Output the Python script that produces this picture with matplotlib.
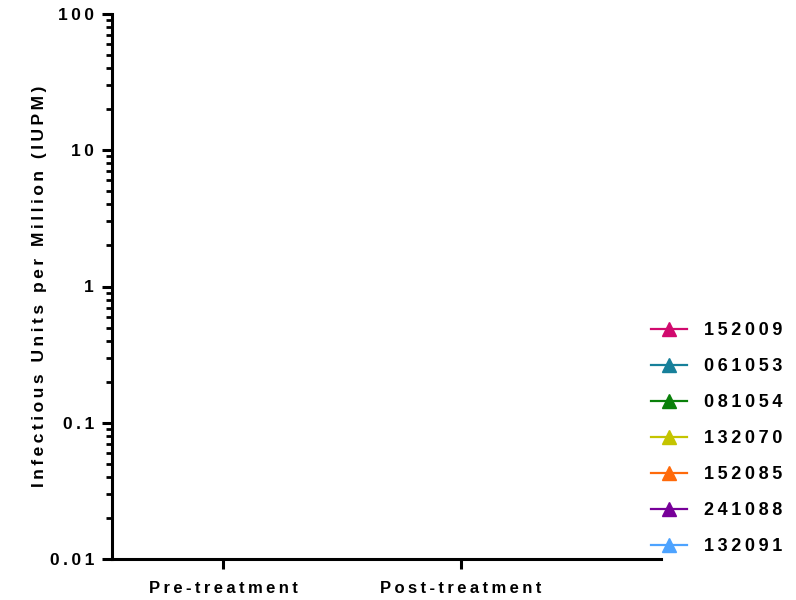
import numpy as np
import matplotlib
matplotlib.use("Agg")
import matplotlib.pyplot as plt
from matplotlib.ticker import FixedLocator, FixedFormatter, LogLocator, NullFormatter

plt.rcParams['font.family'] = ['Liberation Sans', 'DejaVu Sans']
plt.rcParams['font.weight'] = 'bold'

# categories on the x axis
groups = ["Pre-treatment", "Post-treatment"]

# participant ids and colours (no values are shown in the chart)
participants = ["152009", "061053", "081054", "132070", "152085", "241088", "132091"]
colors = ["#d10a6e", "#17809a", "#0a800a", "#c4c400", "#ff6a0a", "#770099", "#4da3ff"]
iupm = [[], [], [], [], [], [], []]

y_ticks = [0.01, 0.1, 1, 10, 100]
y_labels = ["0.01", "0.1", "1", "10", "100"]


def spaced(s, gap="\u2009"):
    # Prism-like wide letter spacing
    return gap.join(s)


fig = plt.figure(figsize=(7.96, 6), dpi=100)
ax = fig.add_axes([0.1407, 0.0683, 0.6897, 0.9084])

for name, col, vals in zip(participants, colors, iupm):
    xs = list(range(len(vals)))
    ax.plot(xs, vals, color=col, marker="^", markersize=10, linewidth=1.6,
            label=spaced(name))

ax.set_yscale("log")
ax.set_ylim(0.01, 100)
ax.set_xlim(-0.466, 1.84)

ax.yaxis.set_major_locator(FixedLocator(y_ticks))
ax.yaxis.set_major_formatter(FixedFormatter([spaced(t) for t in y_labels]))
ax.yaxis.set_minor_locator(LogLocator(base=10, subs=np.arange(2, 10), numticks=20))
ax.yaxis.set_minor_formatter(NullFormatter())

ax.set_xticks(range(len(groups)))
ax.set_xticklabels([spaced(g) for g in groups])

for side in ["top", "right"]:
    ax.spines[side].set_visible(False)
for side in ["left", "bottom"]:
    ax.spines[side].set_linewidth(2.2)

ax.tick_params(axis="both", which="major", direction="out", length=7, width=2.2,
               labelsize=12, pad=5)
ax.tick_params(axis="y", which="major", labelsize=12.5, pad=6)
ax.tick_params(axis="x", which="major", pad=9)
ax.tick_params(axis="y", which="minor", direction="out", length=4, width=2)

ax.set_ylabel(spaced("Infectious Units per Million (IUPM)"), fontsize=12.5,
              fontweight="bold", labelpad=2)

leg = fig.legend(loc="upper left", bbox_to_anchor=(0.818, 0.463), frameon=False,
                 fontsize=13, handlelength=2.0, handletextpad=0.95,
                 labelspacing=1.05, borderpad=0, borderaxespad=0)

fig.savefig("out.png", dpi=100)
